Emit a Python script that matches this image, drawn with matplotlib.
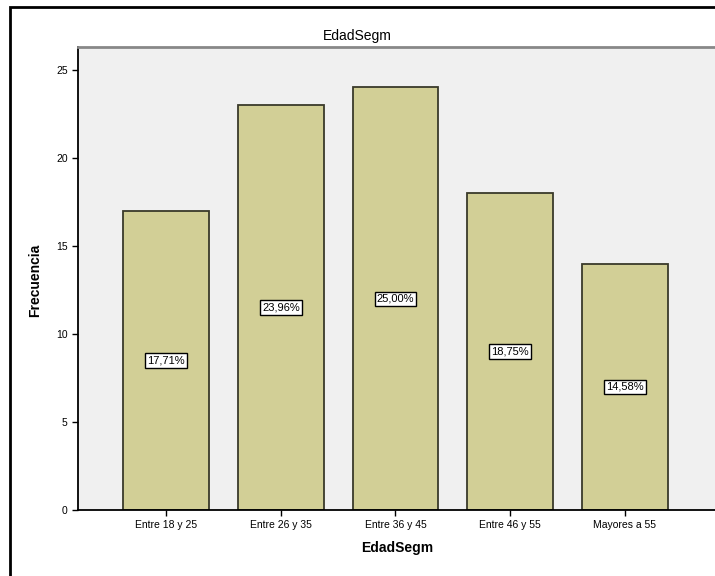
import matplotlib.pyplot as plt
from matplotlib.patches import Rectangle

categorias = ["Entre 18 y 25", "Entre 26 y 35", "Entre 36 y 45", "Entre 46 y 55", "Mayores a 55"]
frecuencias = [17, 23, 24, 18, 14]
porcentajes = ["17,71%", "23,96%", "25,00%", "18,75%", "14,58%"]
y_ticks = [0, 5, 10, 15, 20, 25]

plt.rcParams["font.family"] = ["Liberation Sans", "DejaVu Sans"]

fig = plt.figure(figsize=(7.15, 5.76), dpi=100)
fig.patch.set_facecolor("white")

# outer frame (cropped on right and bottom)
fig.patches.append(Rectangle((10 / 715, -0.1), 1.2, (576 - 7) / 576 + 0.1,
                             transform=fig.transFigure, fill=False,
                             edgecolor="black", linewidth=2))

ax = fig.add_axes([78 / 715, 66 / 576, 1 - 78 / 715 + 0.01, (510 - 47) / 576])
ax.set_facecolor("#F0F0F0")

x = range(len(categorias))
ax.bar(x, frecuencias, width=0.75, color="#D2CF96", edgecolor="#3a3a2a", linewidth=1.3)

for i, (f, p) in enumerate(zip(frecuencias, porcentajes)):
    ax.text(i, f / 2, p, ha="center", va="center", fontsize=8,
            bbox=dict(boxstyle="square,pad=0.2", facecolor="white", edgecolor="black", linewidth=1))

ax.set_xlim(-0.77, 4.85)
ax.set_ylim(0, 26.3)
ax.set_xticks(list(x))
ax.set_xticklabels(categorias, fontsize=7.5)
ax.set_yticks(y_ticks)
ax.set_yticklabels([str(t) for t in y_ticks], fontsize=7.5)
ax.tick_params(direction="out", length=4, width=1)

ax.spines["right"].set_visible(False)
ax.spines["top"].set_color("#888888")
ax.spines["top"].set_linewidth(2)
ax.spines["left"].set_linewidth(1.3)
ax.spines["bottom"].set_linewidth(1.3)

fig.text(357 / 715, 1 - 36 / 576, "EdadSegm", ha="center", va="center", fontsize=10)
fig.text(35 / 715, 1 - 280 / 576, "Frecuencia", ha="center", va="center",
         rotation=90, fontsize=10, fontweight="bold")
fig.text(397 / 715, 1 - 548 / 576, "EdadSegm", ha="center", va="center",
         fontsize=10, fontweight="bold")

fig.savefig("out.png", dpi=100)
